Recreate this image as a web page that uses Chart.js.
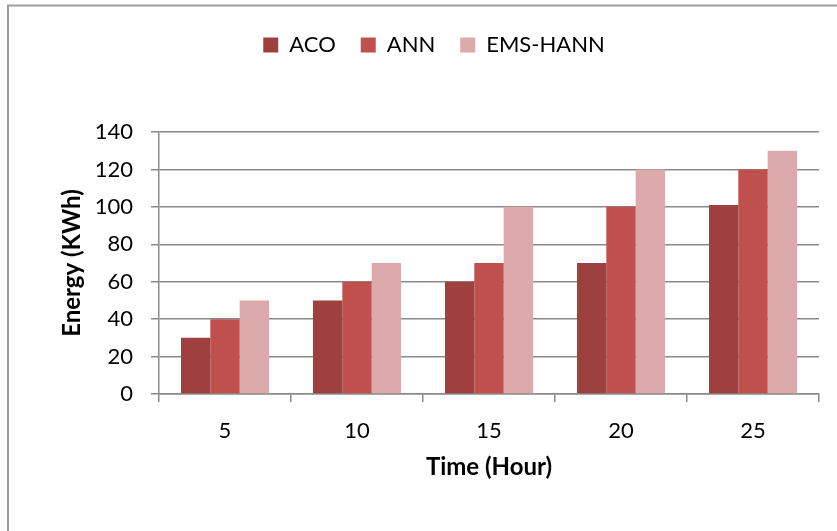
<!DOCTYPE html>
<html>
<head>
<meta charset="utf-8">
<title>Energy (KWh) by Time (Hour)</title>
<script src="https://cdn.jsdelivr.net/npm/chart.js@4.4.1/dist/chart.umd.min.js"></script>
<style>
  html, body { margin: 0; padding: 0; background: #ffffff; }
  #wrap { position: relative; width: 837px; height: 531px; }
</style>
</head>
<body>
<div id="wrap"><canvas id="chart" width="837" height="531"></canvas></div>
<script>
// Hours on the x axis
const hours = ['5', '10', '15', '20', '25'];

// Energy consumed (KWh) for each method
const acoValues = [30, 50, 60, 70, 101];
const annValues = [40, 60, 70, 100, 120];
const emsHannValues = [50, 70, 100, 120, 130];

// Y axis range and step
const yTicks = [0, 20, 40, 60, 80, 100, 120, 140];

const FONT = 'Lato, "Open Sans", "Liberation Sans", sans-serif';
const AXIS_GREY = '#8a8a8a';

// White background plus the grey frame along the top and left edges
const framePlugin = {
  id: 'frame',
  beforeDraw(chart) {
    const ctx = chart.ctx;
    ctx.save();
    ctx.fillStyle = '#ffffff';
    ctx.fillRect(0, 0, chart.width, chart.height);
    ctx.strokeStyle = '#9c9c9c';
    ctx.lineWidth = 2;
    ctx.beginPath();
    ctx.moveTo(8, chart.height);
    ctx.lineTo(8, 5.5);
    ctx.lineTo(chart.width, 5.5);
    ctx.stroke();
    ctx.restore();
  }
};

// Give the legend a fixed block height so the plot starts lower
const legendHeightPlugin = {
  id: 'legendHeight',
  beforeInit(chart) {
    const legend = chart.legend;
    if (!legend) return;
    const origFit = legend.fit;
    legend.fit = function () {
      origFit.call(this);
      this.height = 123;
    };
  }
};

new Chart(document.getElementById('chart'), {
  type: 'bar',
  data: {
    labels: hours,
    datasets: [
      { label: 'ACO', data: acoValues, backgroundColor: '#9e413e' },
      { label: 'ANN', data: annValues, backgroundColor: '#c0504d' },
      { label: 'EMS-HANN', data: emsHannValues, backgroundColor: '#dcaaaa' }
    ]
  },
  options: {
    responsive: false,
    animation: false,
    devicePixelRatio: 1,
    layout: { padding: { top: 9, left: 49, right: 18, bottom: 37 } },
    datasets: {
      bar: { categoryPercentage: 0.667, barPercentage: 1.0, borderWidth: 0 }
    },
    plugins: {
      tooltip: { enabled: false },
      legend: {
        display: true,
        position: 'top',
        labels: {
          boxWidth: 15,
          boxHeight: 15,
          padding: 25,
          color: '#000000',
          font: { family: FONT, size: 22 }
        }
      }
    },
    scales: {
      x: {
        type: 'category',
        offset: true,
        grid: {
          offset: true,
          drawOnChartArea: false,
          drawTicks: true,
          tickLength: 8,
          color: AXIS_GREY,
          lineWidth: 1.5
        },
        border: { display: true, color: AXIS_GREY, width: 1.5 },
        ticks: {
          color: '#000000',
          padding: 16,
          maxRotation: 0,
          font: { family: FONT, size: 22 }
        },
        title: {
          display: true,
          text: 'Time (Hour)',
          color: '#000000',
          padding: { top: 0, bottom: 12 },
          font: { family: FONT, size: 24, weight: 'bold' }
        },
        afterFit(scale) { scale.height = 100; }
      },
      y: {
        min: yTicks[0],
        max: yTicks[yTicks.length - 1],
        afterBuildTicks(scale) { scale.ticks = yTicks.map(v => ({ value: v })); },
        grid: {
          drawOnChartArea: true,
          drawTicks: true,
          tickLength: 8,
          color: AXIS_GREY,
          lineWidth: 1.5
        },
        border: { display: true, color: AXIS_GREY, width: 1.5 },
        ticks: {
          color: '#000000',
          padding: 18,
          font: { family: FONT, size: 22 }
        },
        title: {
          display: true,
          text: 'Energy (KWh)',
          color: '#000000',
          padding: { top: 9, bottom: 0 },
          font: { family: FONT, size: 24, weight: 'bold' }
        },
        afterFit(scale) { scale.width = 110; }
      }
    }
  },
  plugins: [framePlugin, legendHeightPlugin]
});
</script>
</body>
</html>
